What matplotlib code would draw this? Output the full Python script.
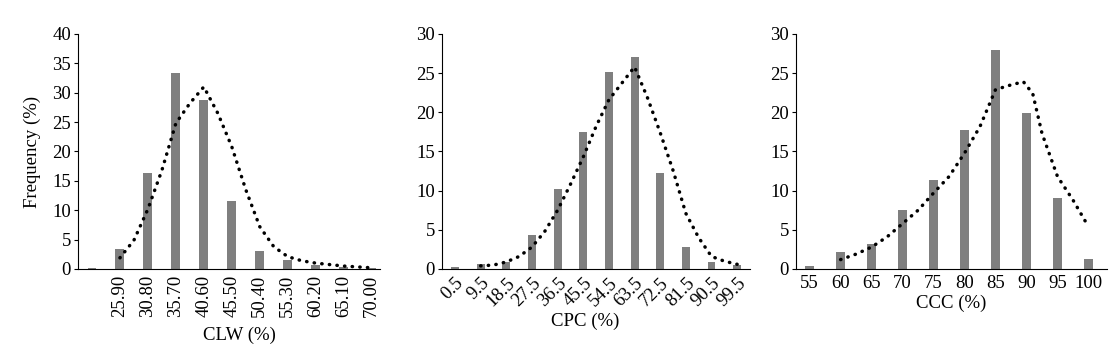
import numpy as np
import matplotlib
matplotlib.use("Agg")
import matplotlib.pyplot as plt

plt.rcParams['font.family'] = ['Liberation Serif', 'DejaVu Serif']
plt.rcParams['font.size'] = 13.5

### CLW panel
clw_labels = ["", "25.90", "30.80", "35.70", "40.60", "45.50", "50.40",
              "55.30", "60.20", "65.10", "70.00"]
clw_freq = [0.2, 3.4, 16.3, 33.4, 28.8, 11.5, 3.0, 1.5, 0.7, 0.3, 0.1]
clw_curve_x = [1, 1.5, 2, 2.5, 3, 3.5, 4, 4.5, 5, 5.5, 6, 6.5, 7, 7.5, 8, 9, 10]
clw_curve_y = [1.9, 4.9, 10.2, 16.8, 24.8, 28.2, 31.0, 26.5, 20.8, 13.5,
               7.2, 3.8, 2.1, 1.4, 1.0, 0.5, 0.2]

### CPC panel
cpc_labels = ["0.5", "9.5", "18.5", "27.5", "36.5", "45.5", "54.5",
              "63.5", "72.5", "81.5", "90.5", "99.5"]
cpc_freq = [0.2, 0.6, 0.9, 4.3, 10.2, 17.5, 25.1, 27.1, 12.3, 2.8, 0.9, 0.5]
cpc_curve_x = [1, 1.5, 2, 2.5, 3, 3.5, 4, 4.5, 5, 5.5, 6, 6.5, 7, 7.5,
               8, 8.5, 9, 9.5, 10, 10.5, 11]
cpc_curve_y = [0.4, 0.5, 0.9, 1.6, 2.8, 4.8, 7.5, 10.8, 14.3, 18.2, 21.6,
               23.7, 25.8, 21.9, 17.4, 12.6, 7.1, 4.0, 1.6, 1.0, 0.6]

### CCC panel
ccc_labels = ["55", "60", "65", "70", "75", "80", "85", "90", "95", "100"]
ccc_freq = [0.4, 2.2, 3.2, 7.5, 11.3, 17.8, 28.0, 19.9, 9.0, 1.3]
ccc_curve_x = [1, 1.5, 2, 2.5, 3, 3.5, 4, 4.5, 5, 5.5, 6, 6.5, 6.9, 7.2,
               7.5, 8, 8.5, 9]
ccc_curve_y = [1.2, 1.9, 2.8, 4.1, 5.8, 7.5, 9.7, 11.8, 14.8, 18.2, 22.9,
               23.5, 23.9, 22.4, 17.3, 11.8, 8.8, 5.4]

fig = plt.figure(figsize=(11.16, 3.55), dpi=100)

panels = [
    dict(rect=[0.0699, 0.2423, 0.2706, 0.662], labels=clw_labels, freq=clw_freq,
         cx=clw_curve_x, cy=clw_curve_y, xlim=(-0.5, 10.3), ymax=40, width=0.32,
         rot=90, xlabel="CLW (%)", lx=0.536, lpad=7),
    dict(rect=[0.396, 0.2423, 0.276, 0.662], labels=cpc_labels, freq=cpc_freq,
         cx=cpc_curve_x, cy=cpc_curve_y, xlim=(-0.51, 11.5), ymax=30, width=0.31,
         rot=45, xlabel="CPC (%)", lx=0.464, lpad=2),
    dict(rect=[0.713, 0.2423, 0.279, 0.662], labels=ccc_labels, freq=ccc_freq,
         cx=ccc_curve_x, cy=ccc_curve_y, xlim=(-0.45, 9.6), ymax=30, width=0.29,
         rot=0, xlabel="CCC (%)", lx=0.5, lpad=2),
]

for i, p in enumerate(panels):
    ax = fig.add_axes(p["rect"])
    xs = np.arange(len(p["freq"]))
    ax.bar(xs, p["freq"], width=p["width"], color="#7f7f7f", zorder=2)
    ax.plot(p["cx"], p["cy"], color="black", lw=2.5,
            linestyle=(0, (0.1, 2.1)), dash_capstyle="round", zorder=3)
    ax.set_xlim(*p["xlim"])
    ax.set_ylim(0, p["ymax"])
    ax.set_yticks(np.arange(0, p["ymax"] + 1, 5))
    ax.set_xticks(xs)
    if p["rot"] == 90:
        ax.set_xticklabels(p["labels"], rotation=90)
    elif p["rot"] == 45:
        ax.set_xticklabels(p["labels"], rotation=45, ha="right",
                           rotation_mode="anchor")
    else:
        ax.set_xticklabels(p["labels"])
    for s in ["top", "right"]:
        ax.spines[s].set_visible(False)
    ax.tick_params(axis="x", length=0, pad=4)
    ax.tick_params(axis="y", length=3, direction="out", pad=2)
    ax.set_xlabel(p["xlabel"], labelpad=p["lpad"])
    ax.xaxis.label.set_x(p["lx"])
    if i == 0:
        ax.set_ylabel("Frequency (%)", labelpad=8)

fig.savefig("out.png", dpi=100)
